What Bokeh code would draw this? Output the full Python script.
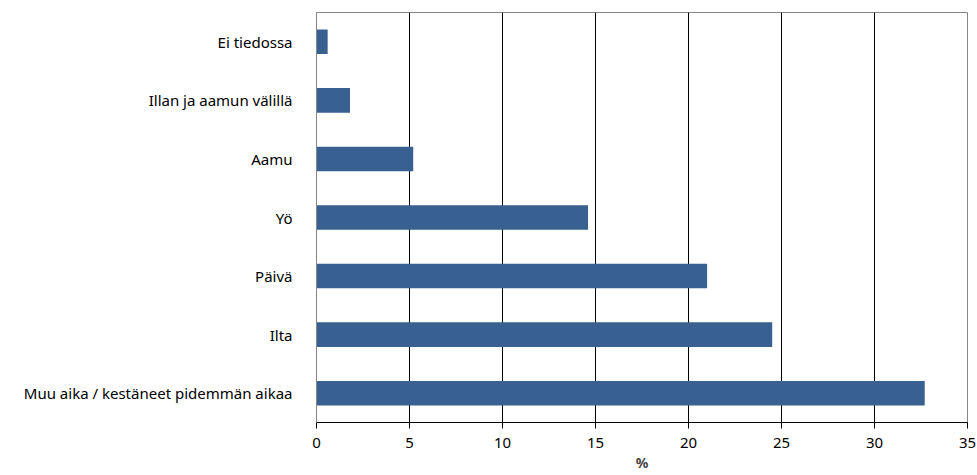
from bokeh.plotting import figure
from bokeh.models import FactorRange, Range1d, FixedTicker
from bokeh.embed import file_html
from bokeh.resources import INLINE

categories = ["Muu aika / kestäneet pidemmän aikaa", "Ilta", "Päivä", "Yö", "Aamu",
              "Illan ja aamun välillä", "Ei tiedossa"]
values = [32.7, 24.5, 21.0, 14.6, 5.2, 1.8, 0.6]
x_ticks = [0, 5, 10, 15, 20, 25, 30, 35]

FONT = "Noto Sans"

p = figure(width=976, height=474, output_backend="svg", toolbar_location=None,
           y_range=FactorRange(factors=categories), x_range=Range1d(0, 35),
           min_border_left=316, min_border_right=9, min_border_top=12, min_border_bottom=47)

p.hbar(y=categories, right=values, height=0.42, left=0, color="#386090", line_color=None)

p.outline_line_color = "#868686"
p.background_fill_color = "white"
p.border_fill_color = "white"

p.xgrid.ticker = FixedTicker(ticks=x_ticks)
p.xgrid.grid_line_color = "#000000"
p.xgrid.grid_line_width = 1
p.ygrid.grid_line_color = None

p.xaxis.ticker = FixedTicker(ticks=x_ticks)
p.xaxis.axis_line_color = "#000000"
p.xaxis.major_tick_line_color = "#000000"
p.xaxis.major_tick_out = 6
p.xaxis.major_tick_in = 0
p.xaxis.minor_tick_line_color = None
p.xaxis.major_label_text_font = FONT
p.xaxis.major_label_text_font_size = "15px"
p.xaxis.major_label_text_color = "#000000"
p.xaxis.major_label_standoff = 9
p.xaxis.axis_label = "%"
p.xaxis.axis_label_text_font = FONT
p.xaxis.axis_label_text_font_style = "bold"
p.xaxis.axis_label_text_font_size = "14px"
p.xaxis.axis_label_standoff = 2

p.yaxis.axis_line_color = "#868686"
p.yaxis.major_tick_line_color = None
p.yaxis.minor_tick_line_color = None
p.yaxis.major_label_text_font = FONT
p.yaxis.major_label_text_font_size = "15px"
p.yaxis.major_label_text_color = "#000000"
p.yaxis.major_label_standoff = 18

open("out.html", "w").write(file_html(p, INLINE))
